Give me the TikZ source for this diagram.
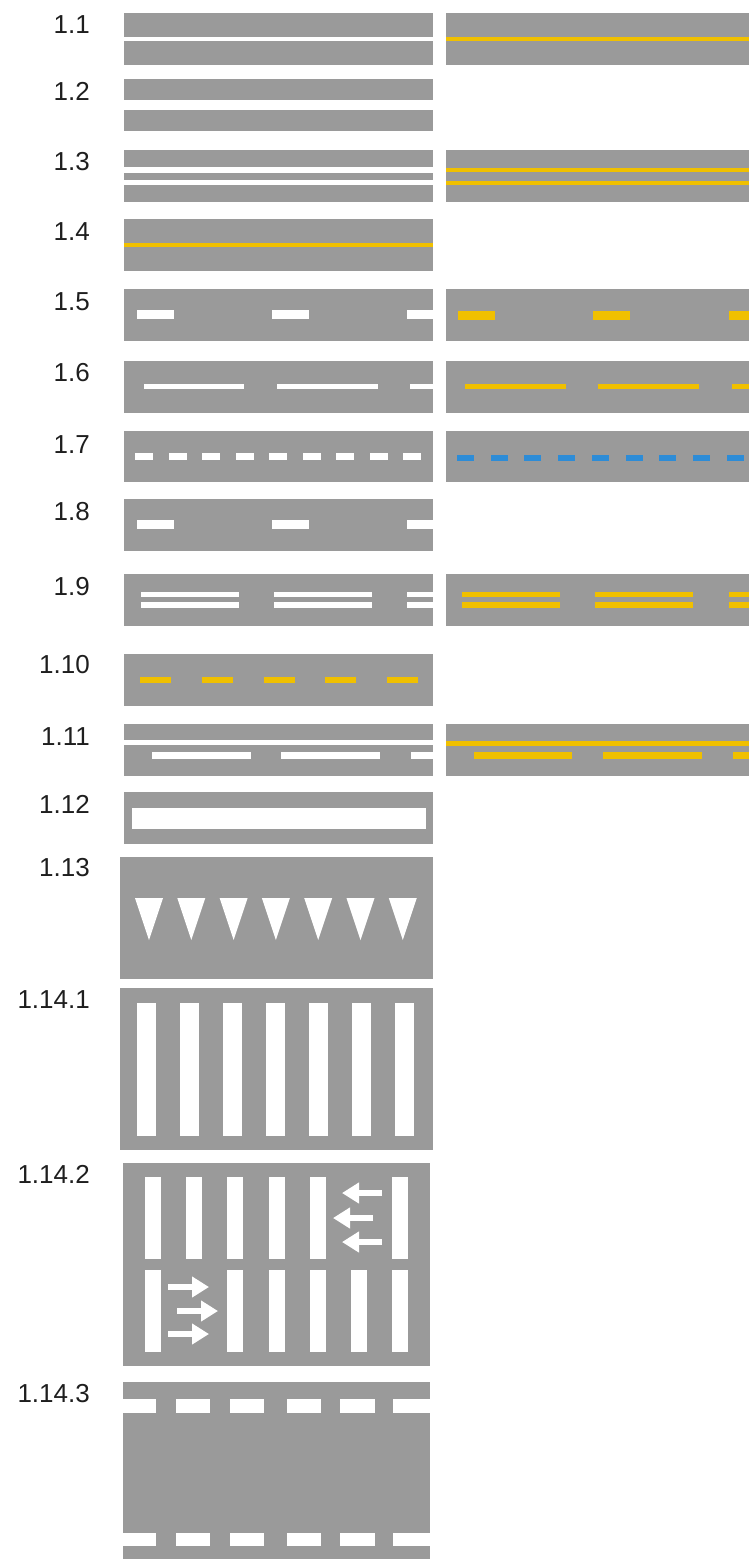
\documentclass[tikz,border=0pt]{standalone}
\usepackage{fontspec}
\setmainfont{Liberation Sans}
\usetikzlibrary{arrows.meta}
\definecolor{roadgray}{RGB}{154,154,154}
\definecolor{markyellow}{RGB}{240,192,0}
\definecolor{markblue}{RGB}{45,140,215}
\definecolor{numcol}{RGB}{30,30,30}

\begin{document}
\begin{tikzpicture}[x=1pt,y=-1pt,
    road/.style={fill=roadgray},
    wmark/.style={fill=white},
    ymark/.style={fill=markyellow},
    bmark/.style={fill=markblue},
    num/.style={anchor=east,text=numcol,inner sep=0pt,font=\fontsize{26}{26}\selectfont},
    walkarrow/.style={white,line width=6pt,-{Triangle[length=17pt,width=20pt]}}]
    \useasboundingbox (0,0) rectangle (749,1559);

    % 1.1
    \node[num] (n11) at (90,25) {1.1};
    \fill[road] (124,13) rectangle (433,65);
    \fill[wmark] (124,37) rectangle (433,41);
    \fill[road] (446,13) rectangle (749,65);
    \fill[ymark] (446,37) rectangle (749,41);

    % 1.2
    \node[num] (n12) at (90,91) {1.2};
    \fill[road] (124,79) rectangle (433,131);
    \fill[wmark] (124,100) rectangle (433,110);

    % 1.3
    \node[num] (n13) at (90,162) {1.3};
    \fill[road] (124,150) rectangle (433,202);
    \fill[wmark] (124,167) rectangle (433,173);
    \fill[wmark] (124,180) rectangle (433,185);
    \fill[road] (446,150) rectangle (749,202);
    \fill[ymark] (446,168) rectangle (749,172);
    \fill[ymark] (446,181) rectangle (749,185);

    % 1.4
    \node[num] (n14) at (90,232) {1.4};
    \fill[road] (124,219) rectangle (433,271);
    \fill[ymark] (124,243) rectangle (433,247);

    % 1.5
    \node[num] (n15) at (90,302) {1.5};
    \fill[road] (124,289) rectangle (433,341);
    \foreach \a/\b in {137/174,272/309,407/433}
        \fill[wmark] (\a,310) rectangle (\b,319);
    \fill[road] (446,289) rectangle (749,341);
    \foreach \a/\b in {458/495,593/630,729/749}
        \fill[ymark] (\a,311) rectangle (\b,320);

    % 1.6
    \node[num] (n16) at (90,373) {1.6};
    \fill[road] (124,361) rectangle (433,413);
    \foreach \a/\b in {144/244,277/378,410/433}
        \fill[wmark] (\a,384) rectangle (\b,389);
    \fill[road] (446,361) rectangle (749,413);
    \foreach \a/\b in {465/566,598/699,732/749}
        \fill[ymark] (\a,383.5) rectangle (\b,389);

    % 1.7
    \node[num] (n17) at (90,445) {1.7};
    \fill[road] (124,431) rectangle (433,482);
    \foreach \i in {0,...,8}
        \fill[wmark] (135+33.5*\i,453) rectangle (153+33.5*\i,460);
    \fill[road] (446,431) rectangle (749,482);
    \foreach \i in {0,...,8}
        \fill[bmark] (457+33.7*\i,455) rectangle (474+33.7*\i,461);

    % 1.8
    \node[num] (n18) at (90,512) {1.8};
    \fill[road] (124,499) rectangle (433,551);
    \foreach \a/\b in {137/174,272/309,407/433}
        \fill[wmark] (\a,520) rectangle (\b,529);

    % 1.9
    \node[num] (n19) at (90,587) {1.9};
    \fill[road] (124,574) rectangle (433,626);
    \foreach \a/\b in {141/239,274/372,407/433} {
        \fill[wmark] (\a,592) rectangle (\b,597);
        \fill[wmark] (\a,602) rectangle (\b,608);
    }
    \fill[road] (446,574) rectangle (749,626);
    \foreach \a/\b in {462/560,595/693,729/749} {
        \fill[ymark] (\a,592) rectangle (\b,597);
        \fill[ymark] (\a,602) rectangle (\b,608);
    }

    % 1.10
    \node[num] (n110) at (90,665) {1.10};
    \fill[road] (124,654) rectangle (433,706);
    \foreach \i in {0,...,4}
        \fill[ymark] (140+61.75*\i,676.5) rectangle (171+61.75*\i,683);

    % 1.11
    \node[num] (n111) at (90,737) {1.11};
    \fill[road] (124,724) rectangle (433,776);
    \fill[wmark] (124,740) rectangle (433,745);
    \foreach \a/\b in {152/251,281/380,411/433}
        \fill[wmark] (\a,752) rectangle (\b,759);
    \fill[road] (446,724) rectangle (749,776);
    \fill[ymark] (446,740.5) rectangle (749,745.5);
    \foreach \a/\b in {474/572,603/702,733/749}
        \fill[ymark] (\a,752) rectangle (\b,759);

    % 1.12
    \node[num] (n112) at (90,804) {1.12};
    \fill[road] (124,792) rectangle (433,844);
    \fill[wmark] (132,808) rectangle (426,829);

    % 1.13
    \node[num] (n113) at (90,868) {1.13};
    \fill[road] (120,857) rectangle (433,979);
    \foreach \i in {0,...,6}
        \fill[wmark] (135+42.3*\i,898) -- (163+42.3*\i,898) -- (149+42.3*\i,940) -- cycle;

    % 1.14.1
    \node[num] (n1141) at (90,1000) {1.14.1};
    \fill[road] (120,988) rectangle (433,1150);
    \foreach \i in {0,...,6}
        \fill[wmark] (137+43*\i,1003) rectangle (156+43*\i,1136);

    % 1.14.2
    \node[num] (n1142) at (90,1174) {1.14.2};
    \fill[road] (123,1163) rectangle (430,1366);
    \foreach \i in {0,1,2,3,4,6}
        \fill[wmark] (145+41.2*\i,1177) rectangle (161+41.2*\i,1259);
    \foreach \i in {0,2,3,4,5,6}
        \fill[wmark] (145+41.2*\i,1270) rectangle (161+41.2*\i,1352);
    \coordinate (lt1) at (382,1193); \coordinate (lh1) at (342,1193);
    \coordinate (lt2) at (373,1218); \coordinate (lh2) at (333,1218);
    \coordinate (lt3) at (382,1242); \coordinate (lh3) at (342,1242);
    \coordinate (rt1) at (168,1287); \coordinate (rh1) at (209,1287);
    \coordinate (rt2) at (177,1311); \coordinate (rh2) at (218,1311);
    \coordinate (rt3) at (168,1334); \coordinate (rh3) at (209,1334);
    \foreach \k in {1,2,3} {
        \draw[walkarrow] (lt\k) -- (lh\k);
        \draw[walkarrow] (rt\k) -- (rh\k);
    }

    % 1.14.3
    \node[num] (n1143) at (90,1394) {1.14.3};
    \fill[road] (123,1382) rectangle (430,1559);
    \foreach \a/\b in {123/156,176/210,230/264,287/321,340/375,393/430} {
        \fill[wmark] (\a,1399) rectangle (\b,1413);
        \fill[wmark] (\a,1533) rectangle (\b,1546);
    }
\end{tikzpicture}
\end{document}
